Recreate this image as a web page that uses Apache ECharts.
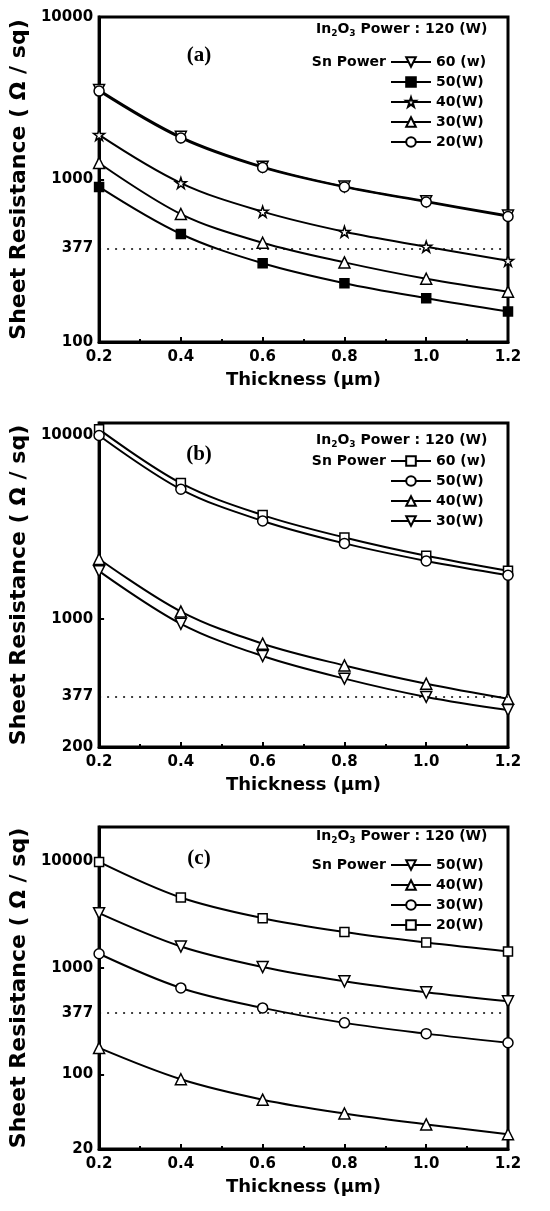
<!DOCTYPE html>
<html>
<head>
<meta charset="utf-8">
<script src="https://cdn.jsdelivr.net/npm/echarts@6/dist/echarts.min.js"></script>
<style>
    html, body { margin: 0; padding: 0; background: #fff; }
    #chart { width: 550px; height: 1211px; }
</style>
</head>
<body>
<div id="chart"></div>
<script>
    // film thickness (um)
    const thickness = [0.2, 0.4, 0.6, 0.8, 1.0, 1.2]

    // (a) sheet resistance, ohm/sq, by Sn power
    const a60 = [3560, 1830, 1200, 905, 735, 600]
    const a50 = [900, 462, 305, 230, 186, 154]
    const a40 = [1880, 951, 634, 477, 386, 316]
    const a30 = [1264, 613, 408, 309, 245, 204]
    const a20 = [3500, 1800, 1185, 899, 727, 592]

    // (b)
    const b60 = [10800, 5500, 3680, 2780, 2210, 1830]
    const b50 = [10000, 5090, 3420, 2580, 2070, 1730]
    const b40 = [2120, 1096, 732, 557, 443, 367]
    const b30 = [1820, 939, 627, 472, 375, 318]

    // (c)
    const c50 = [3240, 1580, 1015, 745, 588, 484]
    const c40 = [177, 90, 58, 43, 34, 27.5]
    const c30 = [1350, 646, 420, 304, 241, 198]
    const c20 = [9800, 4540, 2910, 2160, 1720, 1420]

    // y tick labels shown on each panel
    const yTicksA = [100, 1000, 10000]
    const yTicksB = [200, 1000, 10000]
    const yTicksC = [20, 100, 1000, 10000]
    const refLevel = 377

    const downTri = 'path://M0,0L10,0L5,9Z'
    const star = 'path://M5,0L6.2,3.6L10,3.6L6.9,5.9L8.1,9.5L5,7.3L1.9,9.5L3.1,5.9L0,3.6L3.8,3.6Z'

    const font = 'DejaVu Sans'
    const tickFont = { fontFamily: font, fontWeight: 'bold', fontSize: 15, color: '#000' }

    const grids = [
        { left: 97, right: 42, top: 17, height: 325 },
        { left: 97, right: 42, top: 423, height: 324 },
        { left: 97, right: 42, top: 827, height: 322 }
    ].map(g => Object.assign(g, { show: true, borderColor: '#000', borderWidth: 3 }))

    function xAx(gi) {
        return {
            type: 'value', gridIndex: gi, min: 0.2, max: 1.2, interval: 0.2,
            name: 'Thickness (μm)', nameLocation: 'middle', nameGap: 29,
            nameTextStyle: { fontFamily: font, fontWeight: 'bold', fontSize: 18, color: '#000' },
            axisLine: { show: true, lineStyle: { color: '#000', width: 3 } },
            axisTick: { inside: true, length: 5, lineStyle: { color: '#000', width: 2 } },
            minorTick: { show: true, splitNumber: 2, length: 3, lineStyle: { color: '#000', width: 2 } },
            splitLine: { show: false },
            axisLabel: Object.assign({ margin: 8, formatter: v => v.toFixed(1) }, tickFont)
        }
    }

    function yAx(gi, min, max, ticks) {
        return {
            type: 'log', logBase: 10, gridIndex: gi, min: min, max: max,
            name: 'Sheet Resistance ( Ω / sq)', nameLocation: 'middle', nameGap: 62,
            nameTextStyle: { fontFamily: font, fontWeight: 'bold', fontSize: 22, color: '#000' },
            axisLine: { show: true, lineStyle: { color: '#000', width: 3 } },
            axisTick: { inside: true, length: 5, lineStyle: { color: '#000', width: 2 } },
            splitLine: { show: false },
            axisLabel: Object.assign({
                margin: 6,
                showMinLabel: true,
                formatter: v => ticks.includes(Math.round(v)) ? String(Math.round(v)) : ''
            }, tickFont)
        }
    }

    function line(name, gi, vals, symbol, size, filled) {
        return {
            name: name, type: 'line', xAxisIndex: gi, yAxisIndex: gi,
            data: thickness.map((x, i) => [x, vals[i]]),
            smooth: 0.35, symbol: symbol, symbolSize: size,
            lineStyle: { color: '#000', width: 2 },
            itemStyle: { color: filled ? '#000' : '#fff', borderColor: '#000', borderWidth: 1.5 }
        }
    }

    function refLine(s) {
        s.markLine = {
            silent: true, symbol: 'none',
            lineStyle: { color: '#000', type: [2, 6], width: 1.5 },
            label: Object.assign({ position: 'start', distance: 6, formatter: String(refLevel) }, tickFont),
            data: [{ yAxis: refLevel }]
        }
        return s
    }

    const series = [
        refLine(line('a|60 (w)', 0, a60, downTri, 11, false)),
        line('a|50(W)', 0, a50, 'rect', 9, true),
        line('a|40(W)', 0, a40, star, 11, false),
        line('a|30(W)', 0, a30, 'triangle', 11, false),
        line('a|20(W)', 0, a20, 'circle', 10, false),

        refLine(line('b|60 (w)', 1, b60, 'rect', 9, false)),
        line('b|50(W)', 1, b50, 'circle', 10, false),
        line('b|40(W)', 1, b40, 'triangle', 11, false),
        line('b|30(W)', 1, b30, downTri, 11, false),

        refLine(line('c|50(W)', 2, c50, downTri, 11, false)),
        line('c|40(W)', 2, c40, 'triangle', 11, false),
        line('c|30(W)', 2, c30, 'circle', 10, false),
        line('c|20(W)', 2, c20, 'rect', 9, false)
    ]

    function legend(prefix, top) {
        return {
            data: series.filter(s => s.name.startsWith(prefix)).map(s => s.name),
            formatter: n => n.slice(2),
            left: 390, top: top, orient: 'vertical', align: 'left', padding: 0,
            itemWidth: 40, itemHeight: 12, itemGap: 6, selectedMode: false,
            textStyle: { fontFamily: font, fontWeight: 'bold', fontSize: 14, color: '#000' }
        }
    }

    const headRich = {
        t: { fontFamily: font, fontWeight: 'bold', fontSize: 14, fill: '#000' },
        s: { fontFamily: font, fontWeight: 'bold', fontSize: 9, fill: '#000', padding: [10, 0, 0, 0] }
    }

    function headers(y, tag, rowY) {
        return [
            {
                type: 'text', left: 316, top: y - 9,
                style: { text: '{t|In}{s|2}{t|O}{s|3}{t| Power : 120 (W)}', rich: headRich }
            },
            {
                type: 'text', x: 386, y: rowY,
                style: { text: 'Sn Power', fontFamily: font, fontWeight: 'bold', fontSize: 14, fill: '#000', align: 'right', verticalAlign: 'middle' }
            },
            {
                type: 'text', x: 199, y: rowY - 6,
                style: { text: tag, fontFamily: 'Liberation Serif', fontWeight: 'bold', fontSize: 21, fill: '#000', align: 'center', verticalAlign: 'middle' }
            }
        ]
    }

    const chart = echarts.init(document.getElementById('chart'))
    chart.setOption({
        animation: false,
        backgroundColor: '#fff',
        grid: grids,
        xAxis: [xAx(0), xAx(1), xAx(2)],
        yAxis: [
            yAx(0, 100, 10000, yTicksA),
            yAx(1, 200, 11700, yTicksB),
            yAx(2, 20, 20800, yTicksC)
        ],
        legend: [legend('a|', 55), legend('b|', 454), legend('c|', 858)],
        graphic: [].concat(
            headers(31, '(a)', 62),
            headers(442, '(b)', 461),
            headers(838, '(c)', 865)
        ),
        series: series
    })
</script>
</body>
</html>
